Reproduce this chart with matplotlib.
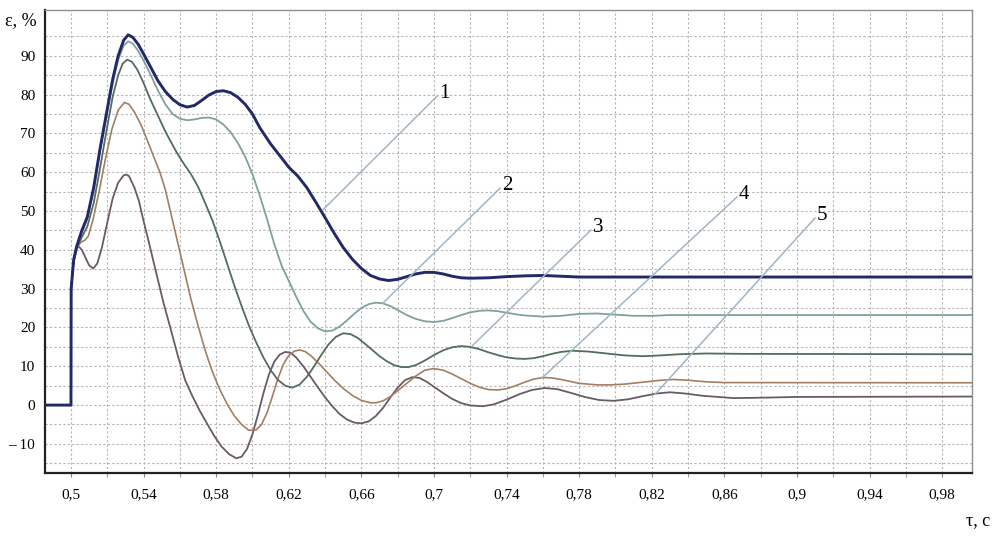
import matplotlib
matplotlib.use("Agg")
import matplotlib.pyplot as plt
import numpy as np

# ---------------- data ----------------
t1 = [0.485, 0.5, 0.5001, 0.5015, 0.5032, 0.506, 0.509, 0.5125, 0.516, 0.5195, 0.523, 0.526, 0.529, 0.5315,
      0.534, 0.537, 0.540, 0.544, 0.548, 0.552, 0.556, 0.560, 0.564, 0.568, 0.572, 0.576, 0.580, 0.584, 0.588,
      0.592, 0.596, 0.600, 0.604, 0.610, 0.615, 0.620, 0.625, 0.630, 0.635, 0.640, 0.645, 0.650, 0.655, 0.660,
      0.665, 0.670, 0.675, 0.680, 0.685, 0.690, 0.695, 0.700, 0.705, 0.710, 0.715, 0.720, 0.730, 0.740, 0.750,
      0.760, 0.770, 0.780, 0.997]
eps1 = [0, 0, 30, 37.5, 41, 45, 48.5, 56, 66, 75, 84, 90, 94, 95.4,
        94.8, 93, 90.5, 87, 83.5, 80.8, 78.8, 77.4, 76.8, 77.2, 78.5, 79.9, 80.8, 81, 80.5,
        79.3, 77.5, 75, 71.5, 67.3, 64.3, 61.3, 59, 56, 52.2, 48.3, 44.3, 40.6, 37.6, 35.2,
        33.4, 32.5, 32.1, 32.4, 33.1, 33.8, 34.2, 34.2, 33.8, 33.2, 32.8, 32.7, 32.8, 33.1, 33.3,
        33.4, 33.2, 33.0, 33.0]

t2 = [0.485, 0.5, 0.5001, 0.5015, 0.5032, 0.506, 0.509, 0.5125, 0.516, 0.5195, 0.523, 0.526, 0.529, 0.5315,
      0.534, 0.537, 0.540, 0.544, 0.548, 0.552, 0.556, 0.560, 0.564, 0.568, 0.572, 0.576, 0.580, 0.584, 0.588,
      0.592, 0.596, 0.600, 0.604, 0.608, 0.612, 0.616, 0.620, 0.624, 0.628, 0.632, 0.636, 0.640, 0.644, 0.648,
      0.652, 0.656, 0.660, 0.664, 0.668, 0.672, 0.676, 0.680, 0.685, 0.690, 0.695, 0.700, 0.705, 0.710, 0.715,
      0.720, 0.725, 0.730, 0.735, 0.740, 0.745, 0.750, 0.760, 0.770, 0.780, 0.790, 0.800, 0.810, 0.820, 0.830,
      0.997]
eps2 = [0, 0, 30, 37.5, 40.8, 44.5, 48, 55.5, 65.5, 74.5, 83, 89, 92.6, 93.7,
        93.2, 91.3, 88.8, 85, 81, 77.5, 75, 73.8, 73.4, 73.6, 74, 74.1, 73.6, 72.3, 70.3,
        67.5, 64, 59.5, 54, 48, 41.5, 36, 32, 28, 24.3, 21.5, 19.8, 19, 19.2, 20.2,
        21.8, 23.5, 25, 26, 26.4, 26.2, 25.5, 24.5, 23.2, 22.2, 21.6, 21.4, 21.7, 22.4, 23.2,
        23.9, 24.3, 24.4, 24.2, 23.8, 23.4, 23.1, 22.8, 23.0, 23.5, 23.6, 23.3, 23.0, 23.0, 23.2,
        23.2]

t3 = [0.485, 0.5, 0.5001, 0.5015, 0.5032, 0.506, 0.509, 0.5125, 0.516, 0.5195, 0.523, 0.526, 0.5285, 0.531,
      0.5335, 0.5365, 0.540, 0.544, 0.548, 0.552, 0.5545, 0.558, 0.562, 0.566, 0.570, 0.574, 0.578, 0.582,
      0.586, 0.590, 0.594, 0.598, 0.602, 0.606, 0.610, 0.614, 0.618, 0.622, 0.626, 0.630, 0.634, 0.638, 0.642,
      0.646, 0.650, 0.654, 0.658, 0.662, 0.666, 0.670, 0.674, 0.678, 0.682, 0.686, 0.690, 0.695, 0.700, 0.705,
      0.710, 0.715, 0.720, 0.725, 0.730, 0.735, 0.740, 0.745, 0.750, 0.755, 0.760, 0.765, 0.770, 0.7766, 0.785,
      0.795, 0.805, 0.815, 0.825, 0.835, 0.850, 0.870, 0.997]
eps3 = [0, 0, 30, 37.3, 40.5, 43.3, 46, 52, 61, 70.5, 79.5, 85, 88, 89,
        88.5, 86.5, 83, 78.5, 74.5, 70.5, 68.3, 65.3, 62.3, 59.6, 56.3, 52, 47.5, 42.2,
        36.5, 30.8, 25.5, 20.5, 16.2, 12.3, 9, 6.5, 5, 4.5, 5.3, 7.3, 10, 13, 15.7,
        17.6, 18.5, 18.3, 17.3, 15.8, 14.2, 12.6, 11.3, 10.3, 9.8, 9.8, 10.3, 11.5, 12.9, 14.1,
        14.9, 15.2, 15, 14.4, 13.6, 12.9, 12.3, 12, 11.9, 12.1, 12.6, 13.2, 13.7, 14.0, 13.8,
        13.3, 12.8, 12.6, 12.8, 13.1, 13.3, 13.2, 13.1]

t4 = [0.485, 0.5, 0.5001, 0.5015, 0.5032, 0.5055, 0.5077, 0.5095, 0.512, 0.5155, 0.519, 0.5225, 0.526, 0.5295,
      0.532, 0.535, 0.5385, 0.542, 0.546, 0.549, 0.552, 0.5555, 0.559, 0.5625, 0.566, 0.570, 0.574, 0.578,
      0.582, 0.586, 0.590, 0.594, 0.598, 0.602, 0.605, 0.608, 0.611, 0.614, 0.617, 0.620, 0.623, 0.626, 0.629,
      0.632, 0.636, 0.640, 0.645, 0.650, 0.655, 0.660, 0.665, 0.668, 0.672, 0.676, 0.680, 0.685, 0.690, 0.695,
      0.700, 0.705, 0.710, 0.715, 0.720, 0.725, 0.730, 0.735, 0.740, 0.745, 0.750, 0.755, 0.760, 0.765, 0.770,
      0.775, 0.780, 0.790, 0.797, 0.805, 0.815, 0.825, 0.832, 0.840, 0.850, 0.860, 0.997]
eps4 = [0, 0, 30, 37, 40.5, 42, 42.5, 43.5, 47.5, 55, 63.5, 71, 76, 78,
        77.5, 75.5, 72.3, 68.3, 63.5, 60, 55.5, 48.5, 41.5, 34.5, 27.5, 20.5, 14, 8.5,
        4, 0.3, -2.8, -5, -6.5, -6.4, -5, -2, 2.3, 6.8, 10.5, 12.8, 13.9, 14.2, 13.8,
        12.8, 11, 9, 6.5, 4.3, 2.5, 1.2, 0.6, 0.6, 1.1, 2.2, 3.7, 5.6, 7.5, 9,
        9.4, 9, 8, 6.8, 5.6, 4.6, 4, 3.9, 4.2, 5, 5.9, 6.7, 7.1, 7.0, 6.6,
        6.1, 5.6, 5.2, 5.2, 5.4, 5.9, 6.4, 6.6, 6.4, 6.0, 5.8, 5.75]

t5 = [0.485, 0.5, 0.5001, 0.5015, 0.5032, 0.504, 0.506, 0.508, 0.510, 0.5123, 0.5145, 0.517, 0.520, 0.523,
      0.526, 0.529, 0.5305, 0.532, 0.535, 0.5375, 0.5397, 0.543, 0.547, 0.551, 0.555, 0.559, 0.563, 0.567,
      0.571, 0.575, 0.579, 0.583, 0.587, 0.591, 0.594, 0.597, 0.600, 0.603, 0.606, 0.609, 0.612, 0.615, 0.618,
      0.621, 0.624, 0.628, 0.632, 0.636, 0.640, 0.644, 0.648, 0.652, 0.656, 0.660, 0.664, 0.668, 0.672, 0.676,
      0.680, 0.684, 0.688, 0.692, 0.696, 0.700, 0.705, 0.710, 0.715, 0.720, 0.727, 0.733, 0.740, 0.747, 0.754,
      0.761, 0.768, 0.775, 0.783, 0.791, 0.799, 0.807, 0.815, 0.823, 0.830, 0.838, 0.848, 0.865, 0.880, 0.900,
      0.997]
eps5 = [0, 0, 30, 37, 40.3, 41, 40, 38, 36, 35.2, 36.5, 40.5, 47, 53.3,
        57.3, 59.2, 59.4, 59, 56, 52.5, 48, 41.8, 34, 26.3, 19.5, 12.5, 6.3, 2.2,
        -1.5, -4.8, -8, -10.7, -12.6, -13.7, -13.3, -11.3, -7.5, -2.5, 3, 7.8, 11.2, 13, 13.7,
        13.5, 12.3, 10, 7.3, 4.6, 2, -0.3, -2.3, -3.7, -4.5, -4.7, -4.2, -2.8, -0.7, 2,
        4.5, 6.4, 7.2, 7, 6, 4.7, 3.1, 1.6, 0.5, -0.1, -0.3, 0.2, 1.4, 2.8, 3.9,
        4.4, 4.1, 3.2, 2.1, 1.3, 1.1, 1.5, 2.3, 3.0, 3.3, 3.0, 2.4, 1.8, 1.9, 2.1,
        2.2]

series_t = [t1, t2, t3, t4, t5]
series_eps = [eps1, eps2, eps3, eps4, eps5]
series_colors = ["#232868", "#7fa0a0", "#546c5e", "#a27f62", "#6a5a68"]
series_widths = [2.1, 1.3, 1.3, 1.2, 1.3]

curve_labels = ["1", "2", "3", "4", "5"]
# callouts: point on curve (t, eps) and end of the leader line (t, eps)
callout_on_curve_t = [0.6388, 0.6719, 0.7209, 0.7600, 0.8218]
callout_on_curve_e = [50.3, 26.3, 15.2, 7.2, 2.8]
callout_end_t = [0.7017, 0.7364, 0.7865, 0.8669, 0.9099]
callout_end_e = [79.6, 55.9, 45.1, 53.6, 48.2]

x_ticks = [0.5, 0.54, 0.58, 0.62, 0.66, 0.7, 0.74, 0.78, 0.82, 0.86, 0.9, 0.94, 0.98]
x_tick_labels = ["0,5", "0,54", "0,58", "0,62", "0,66", "0,7", "0,74", "0,78", "0,82", "0,86", "0,9", "0,94", "0,98"]
y_ticks = [-10, 0, 10, 20, 30, 40, 50, 60, 70, 80, 90]
y_tick_labels = ["\u2013 10", "0", "10", "20", "30", "40", "50", "60", "70", "80", "90"]

# ---------------- figure ----------------
plt.rcParams['font.family'] = ['Liberation Serif', 'DejaVu Serif']
fig = plt.figure(figsize=(9.95, 5.42), dpi=100)
ax = fig.add_axes([0.0452, 0.1273, 0.9317, 0.8542])

# ticks / grid
ax.set_xticks(x_ticks)
ax.set_xticklabels(x_tick_labels, fontsize=11)
ax.set_xticks(np.arange(0.50, 0.99, 0.02), minor=True)
ax.set_yticks(y_ticks)
ax.set_yticklabels(y_tick_labels, fontsize=11)
ax.set_yticks(np.arange(-15, 100, 5), minor=True)
ax.grid(which='both', color='#b4b4b4', linestyle=(0, (2, 2)), linewidth=0.8)
ax.set_axisbelow(True)
ax.tick_params(axis='x', which='both', length=3, color='#888888', pad=8)
ax.tick_params(axis='y', which='both', length=0, pad=7)

ax.set_xlim(0.48568, 0.99642)
ax.set_ylim(-17.5, 101.8)

for side in ['top', 'right']:
    ax.spines[side].set_color('#909090')
    ax.spines[side].set_linewidth(1.0)
for side in ['left', 'bottom']:
    ax.spines[side].set_color('#222222')
    ax.spines[side].set_linewidth(1.6)

# curves (draw thick navy last)
order = [4, 3, 2, 1, 0]
for i in order:
    ax.plot(series_t[i], series_eps[i], color=series_colors[i], lw=series_widths[i],
            solid_joinstyle='round', zorder=3 + (5 - i))

# callouts
for lab, xt, ye, xe, ee in zip(curve_labels, callout_on_curve_t, callout_on_curve_e,
                               callout_end_t, callout_end_e):
    ax.plot([xt, xe], [ye, ee], color='#9fb5ca', lw=1.1, zorder=10)
    ax.annotate(lab, xy=(xe, ee), xytext=(5, 2), textcoords='offset points',
                ha='center', va='center', fontsize=15, zorder=11)

# axis titles
fig.text(0.005, 0.962, "\u03b5, %", fontsize=13, ha='left', va='center')
fig.text(0.995, 0.040, "\u03c4, c", fontsize=13, ha='right', va='center')

fig.savefig("out.png", dpi=100)
